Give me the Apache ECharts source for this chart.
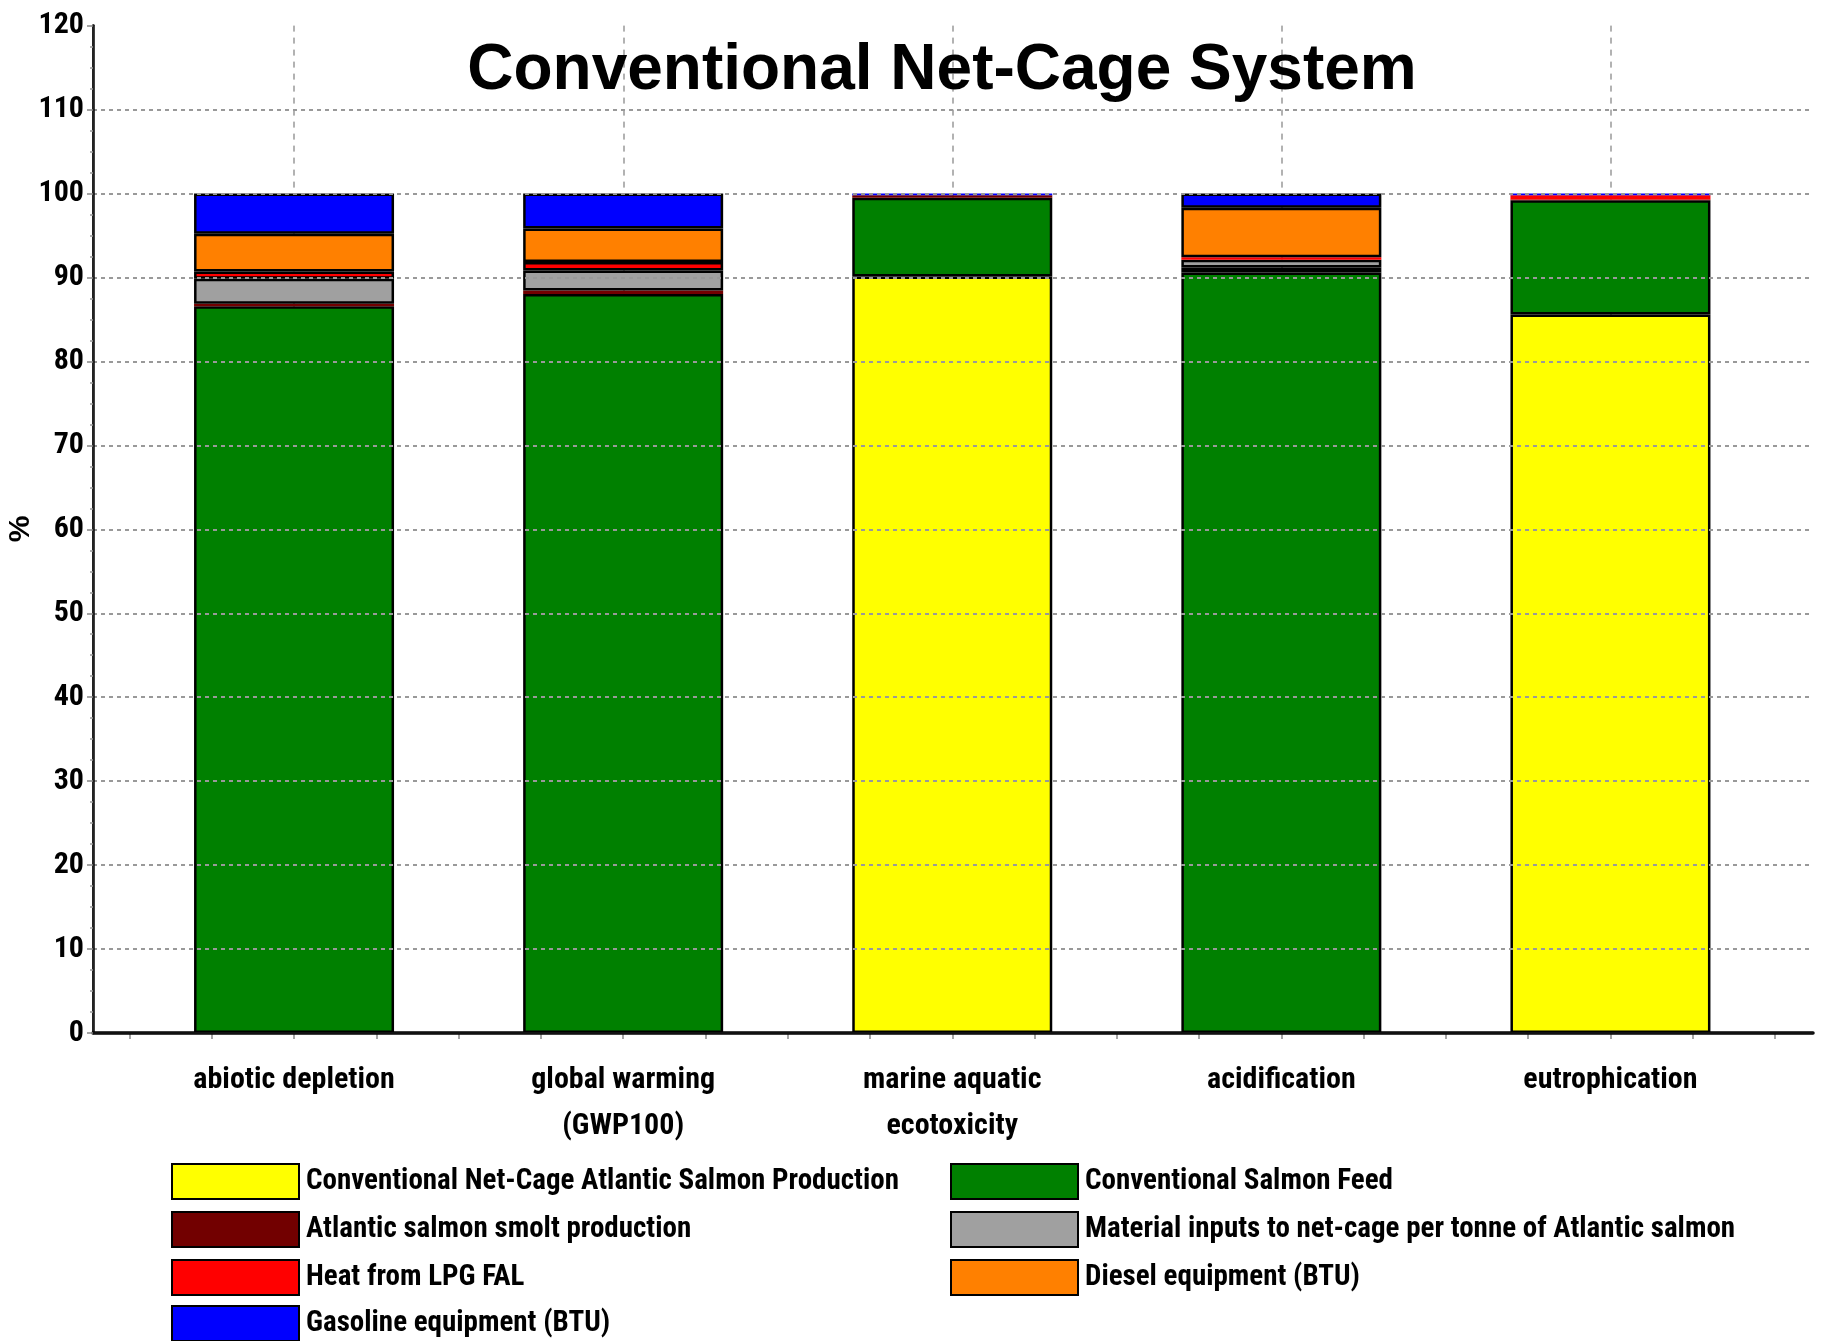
<!DOCTYPE html>
<html>
<head>
<meta charset="utf-8">
<script src="https://cdn.jsdelivr.net/npm/echarts@6/dist/echarts.min.js"></script>
<style>
html,body{margin:0;padding:0;background:#fff;}
#c{width:1824px;height:1341px;}
</style>
</head>
<body>
<div id="c"></div>
<script>
// ---- data ----
const categories = ['abiotic depletion', 'global warming\n(GWP100)', 'marine aquatic\necotoxicity', 'acidification', 'eutrophication'];
const yTicks = [0, 10, 20, 30, 40, 50, 60, 70, 80, 90, 100, 110, 120];
const yAxisTitle = '%';
const seriesNames = [
  'Conventional Net-Cage Atlantic Salmon Production',
  'Conventional Salmon Feed',
  'Atlantic salmon smolt production',
  'Material inputs to net-cage per tonne of Atlantic salmon',
  'Heat from LPG FAL',
  'Diesel equipment (BTU)',
  'Gasoline equipment (BTU)'
];
const production = [0, 0, 90.1, 0, 85.6];
const feed       = [86.56, 88.04, 9.4, 90.6, 13.6];
const smolt      = [0.32, 0.4, 0.3, 0.6, 0.1];
const material   = [2.96, 2.4, 0, 0.9, 0];
const heat       = [0.88, 1.0, 0, 0.3, 0.5];
const diesel     = [4.48, 4.0, 0, 5.9, 0];
const gasoline   = [4.8, 4.16, 0.2, 1.7, 0.2];

const seriesValues = [production, feed, smolt, material, heat, diesel, gasoline];
const colors = ['#FFFF00', '#008000', '#720000', '#A0A0A0', '#FF0000', '#FF8000', '#0000FF'];

const FONT = "'Liberation Sans Narrow', 'Arial Narrow', 'Roboto Condensed', sans-serif";
const G = {top: 25.6, bottom: 308};

const chart = echarts.init(document.getElementById('c'), null, {renderer: 'canvas'});

const series = seriesNames.map((name, i) => ({
  name: name,
  type: 'bar',
  stack: 'total',
  xAxisIndex: 2,
  yAxisIndex: 2,
  barWidth: 200,
  itemStyle: {color: colors[i], borderColor: '#000', borderWidth: 2.5},
  emphasis: {disabled: true},
  data: seriesValues[i].map(v => v === 0 ? null : {
    value: v,
    itemStyle: {borderWidth: v > 0.55 ? 2.5 : 0}
  })
}));

const legendCommon = {
  orient: 'vertical',
  top: 1163,
  padding: 0,
  itemWidth: 127,
  itemHeight: 35,
  itemGap: 11,
  icon: 'rect',
  selectedMode: false,
  itemStyle: {borderColor: '#000', borderWidth: 2},
  textStyle: {fontFamily: FONT, fontSize: 29, fontWeight: 'bold', color: '#000', padding: [0, 0, 0, 2]}
};

const gridCommon = {top: G.top, bottom: G.bottom, containLabel: false, outerBoundsMode: 'none'};

const option = {
  animation: false,
  backgroundColor: '#fff',
  title: {
    text: 'Conventional Net-Cage System',
    left: 937,
    top: 34,
    textAlign: 'center',
    textStyle: {fontFamily: "'Liberation Sans', Arial, sans-serif", fontSize: 64, fontWeight: 'bold', color: '#000'}
  },
  graphic: [{
    type: 'text',
    x: 21,
    y: 529,
    rotation: Math.PI / 2,
    style: {
      text: yAxisTitle,
      font: "bold 30px 'Liberation Sans', Arial, sans-serif",
      fill: '#000',
      align: 'center',
      verticalAlign: 'middle',
      textAlign: 'center',
      textVerticalAlign: 'middle'
    }
  }],
  legend: [
    Object.assign({}, legendCommon, {left: 171, data: [seriesNames[0], seriesNames[2], seriesNames[4]]}),
    Object.assign({}, legendCommon, {left: 950, data: [seriesNames[1], seriesNames[3], seriesNames[5]]}),
    Object.assign({}, legendCommon, {left: 171, top: 1305, data: [seriesNames[6]]})
  ],
  grid: [
    Object.assign({left: 93, right: 11}, gridCommon),
    Object.assign({left: 129.5, right: 49}, gridCommon),
    Object.assign({left: 129.5, right: 49}, gridCommon),
    Object.assign({left: 294, right: 213}, gridCommon)
  ],
  xAxis: [
    {gridIndex: 0, type: 'value', min: 0, max: 1, position: 'bottom', z: 5,
     axisLine: {show: true, lineStyle: {color: '#000', width: 3.5}}, axisTick: {show: false}, axisLabel: {show: false}, splitLine: {show: false}},
    {gridIndex: 0, type: 'value', min: 0, max: 1, position: 'top', z: 5,
     axisLine: {show: true, lineStyle: {color: '#111', width: 2}}, axisTick: {show: false}, axisLabel: {show: false}, splitLine: {show: false}},
    {gridIndex: 1, type: 'category', data: categories, boundaryGap: true,
     axisLine: {show: false}, axisTick: {show: false}, splitLine: {show: false},
     axisLabel: {fontFamily: FONT, fontSize: 30, fontWeight: 'bold', color: '#000', margin: 24, lineHeight: 46, interval: 0}},
    {gridIndex: 2, type: 'value', min: 0, max: 20, interval: 1,
     axisLine: {show: false}, axisLabel: {show: false}, splitLine: {show: false},
     axisTick: {show: true, length: 6, lineStyle: {color: '#888', width: 1.5}}},
    {gridIndex: 3, type: 'value', min: 0, max: 4, interval: 1,
     axisLine: {show: false}, axisTick: {show: false}, axisLabel: {show: false},
     splitLine: {show: true, lineStyle: {color: '#999', width: 1.5, type: [6, 6]}}}
  ],
  yAxis: [
    {gridIndex: 0, type: 'value', min: yTicks[0], max: yTicks[yTicks.length - 1], interval: yTicks[1] - yTicks[0], z: 5,
     axisLine: {show: true, lineStyle: {color: '#000', width: 2.5}},
     axisTick: {show: true, length: 6, lineStyle: {color: '#888', width: 1.5}},
     minorTick: {show: true, splitNumber: 4, length: 3, lineStyle: {color: '#999', width: 1.5}},
     axisLabel: {fontFamily: FONT, fontSize: 30, fontWeight: 'bold', color: '#000', margin: 9},
     splitLine: {show: true, showMaxLine: false, showMinLine: false, lineStyle: {color: '#999', width: 2, type: [4, 4]}}},
    {gridIndex: 0, type: 'value', min: 0, max: 120, position: 'right', z: 5,
     axisLine: {show: true, lineStyle: {color: '#222', width: 2}}, axisTick: {show: false}, axisLabel: {show: false}, splitLine: {show: false}},
    {gridIndex: 1, type: 'value', min: 0, max: 120, show: false},
    {gridIndex: 2, type: 'value', min: 0, max: 120, show: false},
    {gridIndex: 3, type: 'value', min: 0, max: 120, show: false}
  ],
  series: series
};

chart.setOption(option);
</script>
</body>
</html>
